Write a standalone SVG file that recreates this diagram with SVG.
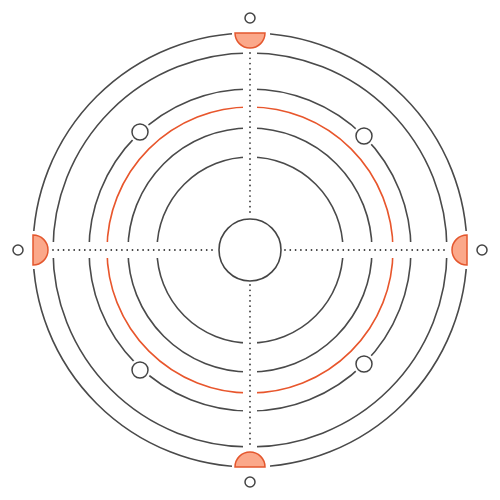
<svg xmlns="http://www.w3.org/2000/svg" width="500" height="500" viewBox="0 0 500 500">
  <style>
    .ring{fill:none;stroke:#4a4a4a;stroke-width:1.6}
    .ring.hot{stroke:#e8562c}
    .dots{fill:none;stroke:#3a3a3a;stroke-width:1.8;stroke-linecap:round;stroke-dasharray:0 5.3}
    .half{fill:#fba88a;stroke:#e4572e;stroke-width:1.5}
    .dot{fill:#fff;stroke:#444;stroke-width:1.5}
    .hub{fill:#fff;stroke:#444;stroke-width:1.6}
  </style>
  <defs>
    <mask id="axisGap" maskUnits="userSpaceOnUse" x="0" y="0" width="500" height="500">
      <rect x="0" y="0" width="500" height="500" fill="#fff"/>
      <rect x="243" y="0" width="14" height="500" fill="#000"/>
      <rect x="0" y="242" width="500" height="16" fill="#000"/>
      <circle cx="140" cy="132" r="11" fill="#000"/>
      <circle cx="364" cy="136" r="11" fill="#000"/>
      <circle cx="364" cy="364" r="11" fill="#000"/>
      <circle cx="140" cy="370" r="11" fill="#000"/>
    </mask>
    <mask id="outerGap" maskUnits="userSpaceOnUse" x="0" y="0" width="500" height="500">
      <rect x="0" y="0" width="500" height="500" fill="#fff"/>
      <rect x="232" y="0" width="38" height="500" fill="#000"/>
      <rect x="0" y="231" width="500" height="38" fill="#000"/>
    </mask>
  </defs>

  <g id="connectors">
    <line class="dots" x1="250" y1="53" x2="250" y2="216"/>
    <line class="dots" x1="250" y1="285" x2="250" y2="447"/>
    <line class="dots" x1="53" y1="250" x2="216" y2="250"/>
    <line class="dots" x1="285" y1="250" x2="448" y2="250"/>
  </g>

  <g id="rings">
    <circle id="ring-outer" class="ring" cx="250" cy="250" r="217" mask="url(#outerGap)"/>
    <g mask="url(#axisGap)">
      <circle id="ring-197" class="ring" cx="250" cy="250" r="197"/>
      <circle id="ring-161" class="ring" cx="250" cy="250" r="161"/>
      <circle id="ring-143" class="ring hot" cx="250" cy="250" r="143"/>
      <circle id="ring-122" class="ring" cx="250" cy="250" r="122"/>
      <circle id="ring-93" class="ring" cx="250" cy="250" r="93"/>
    </g>
  </g>

  <g id="hub"><circle class="hub" cx="250" cy="250" r="31"/></g>

  <g id="half-top"><path class="half" d="M235,33 A15,15 0 0 0 265,33 Z"/></g>
  <g id="half-left"><path class="half" d="M33,235 A15,15 0 0 1 33,265 Z"/></g>
  <g id="half-right"><path class="half" d="M467,235 A15,15 0 0 0 467,265 Z"/></g>
  <g id="half-bottom"><path class="half" d="M235,467 A15,15 0 0 1 265,467 Z"/></g>

  <g id="dot-top"><circle class="dot" cx="250" cy="18" r="5"/></g>
  <g id="dot-left"><circle class="dot" cx="18" cy="250" r="5"/></g>
  <g id="dot-right"><circle class="dot" cx="482" cy="250" r="5"/></g>
  <g id="dot-bottom"><circle class="dot" cx="250" cy="482" r="5"/></g>

  <g id="node-ul"><circle class="dot" cx="140" cy="132" r="8"/></g>
  <g id="node-ur"><circle class="dot" cx="364" cy="136" r="8"/></g>
  <g id="node-lr"><circle class="dot" cx="364" cy="364" r="8"/></g>
  <g id="node-ll"><circle class="dot" cx="140" cy="370" r="8"/></g>
</svg>
